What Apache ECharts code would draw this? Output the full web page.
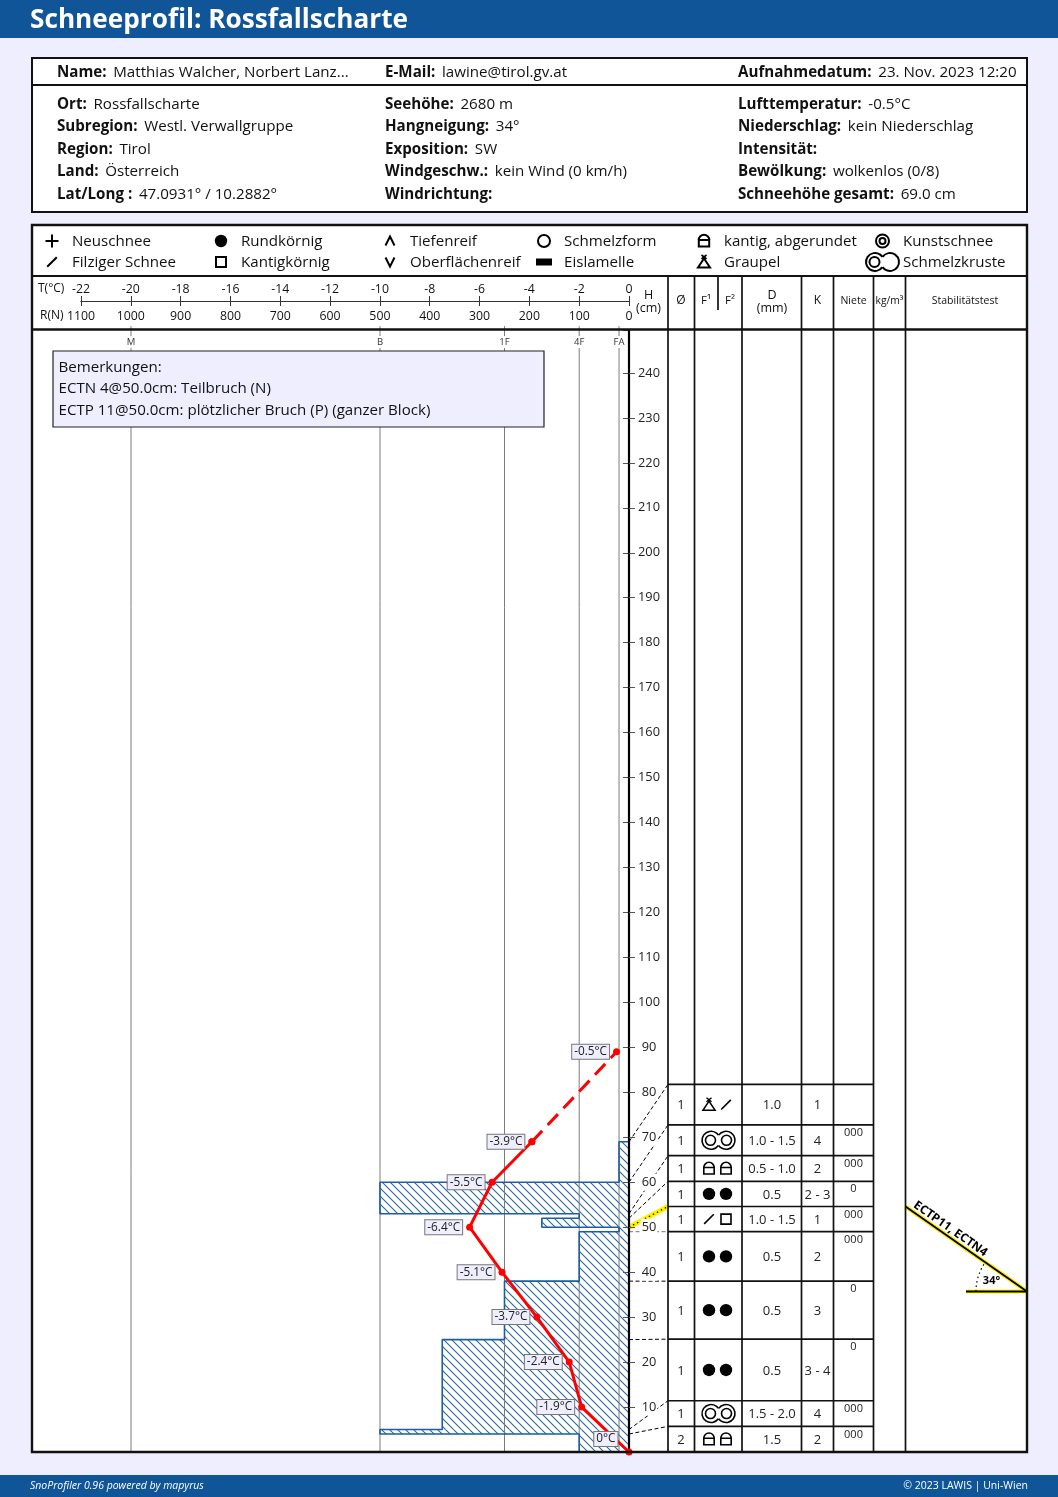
<!DOCTYPE html>
<html>
<head>
<meta charset="utf-8">
<title>Schneeprofil: Rossfallscharte</title>
<script src="https://cdn.jsdelivr.net/npm/echarts@6/dist/echarts.min.js"></script>
<style>
  html, body { margin: 0; padding: 0; background: #eeeeff; }
  #chart { width: 1058px; height: 1497px; }
</style>
</head>
<body>
<div id="chart"></div>
<script>
// data
const infoHead = [["Name:", "Matthias Walcher, Norbert Lanz..."], ["E-Mail:", "lawine@tirol.gv.at"], ["Aufnahmedatum:", "23. Nov. 2023 12:20"]];
const infoCol1 = [["Ort:", "Rossfallscharte"], ["Subregion:", "Westl. Verwallgruppe"], ["Region:", "Tirol"], ["Land:", "Österreich"], ["Lat/Long :", "47.0931° / 10.2882°"]];
const infoCol2 = [["Seehöhe:", "2680 m"], ["Hangneigung:", "34°"], ["Exposition:", "SW"], ["Windgeschw.:", "kein Wind (0 km/h)"], ["Windrichtung:", ""]];
const infoCol3 = [["Lufttemperatur:", "-0.5°C"], ["Niederschlag:", "kein Niederschlag"], ["Intensität:", ""], ["Bewölkung:", "wolkenlos (0/8)"], ["Schneehöhe gesamt:", "69.0 cm"]];
const remarks = ["Bemerkungen:", "ECTN 4@50.0cm: Teilbruch (N)", "ECTP 11@50.0cm: plötzlicher Bruch (P) (ganzer Block)"];

const legendCol1 = [["plus", "Neuschnee"], ["filz", "Filziger Schnee"]];
const legendCol2 = [["round", "Rundkörnig"], ["square", "Kantigkörnig"]];
const legendCol3 = [["up", "Tiefenreif"], ["down", "Oberflächenreif"]];
const legendCol4 = [["ring", "Schmelzform"], ["ice", "Eislamelle"]];
const legendCol5 = [["facet", "kantig, abgerundet"], ["graupel", "Graupel"]];
const legendCol6 = [["artificial", "Kunstschnee"], ["crustKey", "Schmelzkruste"]];

// layers from the ground up: height of the top edge (cm) and hand hardness force (N)
const layerTops = [4, 5, 25, 38, 49, 50, 52, 53, 60, 69];
const layerForce = [100, 500, 375, 250, 100, 20, 175, 100, 500, 20];

const hardnessNames = ["M", "B", "1F", "4F", "FA"];
const hardnessForce = [1000, 500, 250, 100, 20];

const tempHeights = [0, 10, 20, 30, 40, 50, 60, 69, 89];
const tempValues = [0, -1.9, -2.4, -3.7, -5.1, -6.4, -5.5, -3.9, -0.5];

// table rows from the top down
const rowMoisture = ["1", "1", "1", "1", "1", "1", "1", "1", "1", "2"];
const rowGrain1 = ["graupel", "crust", "facet", "round", "filz", "round", "round", "round", "crust", "facet"];
const rowGrain2 = ["filz", "", "facet", "round", "square", "round", "round", "round", "", "facet"];
const rowSize = ["1.0", "1.0 - 1.5", "0.5 - 1.0", "0.5", "1.0 - 1.5", "0.5", "0.5", "0.5", "1.5 - 2.0", "1.5"];
const rowHardness = ["1", "4", "2", "2 - 3", "1", "2", "3", "3 - 4", "4", "2"];
const rowNiete = ["", "000", "000", "0", "000", "000", "0", "0", "000", "000"];
// the layer top each row belongs to, and where the row's top edge sits on the height axis
const rowLayerTop = [69, 60, 53, 52, 50, 49, 38, 25, 5, 4];
const rowEdges = [81.75, 72.75, 65.9, 60.2, 54.6, 49, 38, 25.1, 11.4, 5.7, 0];

const slopeAngle = 34;
const stabilityLabel = "ECTP11, ECTN4";

const FONT = '"Open Sans", "Noto Sans", sans-serif';
const BLUE = "#0f5597";
const PAGE = "#eeeeff";
const HATCH = "#2a66aa";

// column edges of the table (px)
const COLS = [668, 694.5, 742, 801.5, 833.5, 873.5, 905.5, 1027];

// hatch tile for the hardness profile
function hatchTile() {
  const c = document.createElement("canvas");
  c.width = 8;
  c.height = 8;
  const g = c.getContext("2d");
  g.strokeStyle = HATCH;
  g.lineWidth = 1.1;
  g.beginPath();
  g.moveTo(-1, -1);
  g.lineTo(9, 9);
  g.moveTo(7, -1);
  g.lineTo(9, 1);
  g.moveTo(-1, 7);
  g.lineTo(1, 9);
  g.stroke();
  return c;
}
const hatchFill = { image: hatchTile(), repeat: "repeat" };

function ln(x1, y1, x2, y2, lw, color, dash) {
  return {
    type: "line",
    shape: { x1, y1, x2, y2 },
    style: { stroke: color || "#000", lineWidth: lw || 1.6, lineDash: dash || null },
    silent: true,
  };
}
function txt(text, x, y, size, opts) {
  const o = opts || {};
  return {
    type: "text",
    silent: true,
    z: o.z,
    style: {
      text,
      x,
      y: y + 1, // Open Sans sits a bit high when centred
      fill: o.fill || "#111",
      font: (o.weight || "normal") + " " + size + "px " + FONT,
      align: o.align || "center",
      verticalAlign: "middle",
    },
  };
}

// one snow grain symbol around cx, cy. the legend draws them a little heavier
function grain(type, cx, cy, lw) {
  const w = lw || 1.6;
  const stroke = { stroke: "#000", lineWidth: w, fill: "none" };
  const circle = (r, x, st) => ({ type: "circle", shape: { cx: x, cy, r }, style: st, silent: true });
  const arc = (x, y, r, a, b) => ({
    type: "arc",
    shape: { cx: x, cy: y, r, startAngle: a, endAngle: b, clockwise: true },
    style: stroke,
    silent: true,
  });
  const poly = (pts, closed) => ({
    type: closed ? "polygon" : "polyline",
    shape: { points: pts.map((p) => [cx + p[0], cy + p[1]]) },
    style: stroke,
    silent: true,
  });
  const a = (35 * Math.PI) / 180;
  const crustOuter = [
    arc(cx - 7.5, cy, 9, a, 2 * Math.PI - a),
    arc(cx + 7.5, cy, 9, Math.PI + a, 3 * Math.PI - a),
  ];
  switch (type) {
    case "plus":
      return [ln(cx - 6.5, cy, cx + 6.5, cy, w), ln(cx, cy - 6.5, cx, cy + 6.5, w)];
    case "filz":
      return [ln(cx - 4.8, cy + 4.8, cx + 4.8, cy - 4.8, w)];
    case "round":
      return [circle(6.2, cx, { fill: "#000" })];
    case "square":
      return [{ type: "rect", shape: { x: cx - 5, y: cy - 5, width: 10, height: 10 }, style: stroke, silent: true }];
    case "up":
      return [poly([[-4.5, 4.5], [0, -4.5], [4.5, 4.5]])];
    case "down":
      return [poly([[-4.5, -4.5], [0, 4.5], [4.5, -4.5]])];
    case "ring":
      return [circle(6, cx, stroke)];
    case "ice":
      return [{ type: "rect", shape: { x: cx - 8, y: cy - 3.5, width: 16, height: 7 }, style: { fill: "#000" }, silent: true }];
    case "facet":
      return [
        { type: "rect", shape: { x: cx - 5.2, y: cy - 1, width: 10.4, height: 6.5 }, style: stroke, silent: true },
        arc(cx, cy - 1, 5.2, Math.PI, 2 * Math.PI),
      ];
    case "graupel":
      return [
        poly([[0, -3.5], [6, 5.5], [-6, 5.5]], true),
        ln(cx - 2.5, cy - 7, cx + 2.5, cy - 3, w * 0.85),
        ln(cx + 2.5, cy - 7, cx - 2.5, cy - 3, w * 0.85),
      ];
    case "artificial":
      return [circle(6.5, cx, stroke), circle(3, cx, stroke)];
    case "crust":
      return crustOuter.concat(circle(5, cx - 8, stroke), circle(5, cx + 8, stroke));
    case "crustKey":
      return crustOuter.concat(circle(5, cx - 8, stroke));
  }
  return [];
}

function labelled(pair, x, y, size) {
  return {
    type: "text",
    silent: true,
    style: {
      x,
      y,
      text: "{b|" + pair[0] + "}" + (pair[1] ? "  {r|" + pair[1] + "}" : ""),
      verticalAlign: "middle",
      fill: "#111",
      rich: {
        b: { font: "bold " + size + "px " + FONT, fill: "#111" },
        r: { font: size + "px " + FONT, fill: "#111" },
      },
    },
  };
}

// page furniture
const back = [
  { type: "rect", shape: { x: 0, y: 0, width: 1058, height: 38 }, style: { fill: BLUE } },
  { type: "rect", shape: { x: 0, y: 1475, width: 1058, height: 22 }, style: { fill: BLUE } },
  { type: "rect", shape: { x: 32, y: 58, width: 995, height: 154 }, style: { fill: "#fff" } },
  { type: "rect", shape: { x: 32, y: 225, width: 995, height: 1227 }, style: { fill: "#fff" } },
].map((e) => ({ ...e, z: -10, silent: true }));

const front = [];
front.push(txt("Schneeprofil: Rossfallscharte", 30, 19.5, 26.2, { align: "left", weight: "bold", fill: "#fff" }));
front.push({
  type: "text",
  silent: true,
  style: { text: "SnoProfiler 0.96 powered by mapyrus", x: 30, y: 1486.5, fill: "#fff", font: "italic 10.5px " + FONT, verticalAlign: "middle" },
});
front.push(txt("© 2023 LAWIS | Uni-Wien", 1028, 1485.5, 10.5, { align: "right", fill: "#fff" }));

// info box
front.push({ type: "rect", shape: { x: 32, y: 58, width: 995, height: 154 }, style: { fill: "none", stroke: "#111", lineWidth: 2 }, silent: true });
front.push(ln(32, 85, 1027, 85, 2, "#111"));
[57, 385, 738].forEach((x, i) => front.push(labelled(infoHead[i], x, 72.8, 15.15)));
[[57, infoCol1], [385, infoCol2], [738, infoCol3]].forEach(([x, col]) => {
  col.forEach((pair, i) => front.push(labelled(pair, x, 104.7 + i * 22.4, 15.15)));
});

// profile frame and header
front.push({ type: "rect", shape: { x: 32, y: 225, width: 995, height: 1227 }, style: { fill: "none", stroke: "#111", lineWidth: 2.4 }, silent: true });
front.push(ln(32, 276, 1027, 276, 2, "#111"));
front.push(ln(32, 329.5, 1027, 329.5, 2.4, "#111"));
COLS.slice(0, -1).forEach((x) => front.push(ln(x, 276, x, 1452, 1.7, "#111")));
front.push(ln(718, 276, 718, 310, 1.7, "#111"));

[[52, legendCol1, 72], [221, legendCol2, 241], [390, legendCol3, 410], [544, legendCol4, 564], [704, legendCol5, 724], [882.5, legendCol6, 903]].forEach(([sx, col, tx]) => {
  col.forEach((item, i) => {
    const y = 241 + i * 21;
    front.push(...grain(item[0], sx, y, 2));
    front.push(txt(item[1], tx, y, 15.1, { align: "left" }));
  });
});

front.push(txt("T(°C)", 38, 287.5, 12, { align: "left" }));
front.push(txt("R(N)", 40, 314.5, 12, { align: "left" }));
front.push(txt("H", 648.5, 294.5, 12.5));
front.push(txt("(cm)", 648.5, 307, 12.5));
front.push(txt("Ø", 681, 300, 12));
front.push(txt("F¹", 706, 300, 11.5));
front.push(txt("F²", 730, 300, 11.5));
front.push(txt("D", 772, 294.5, 12.5));
front.push(txt("(mm)", 772, 307, 12.5));
front.push(txt("K", 817.5, 300, 12));
front.push(txt("Niete", 853.5, 300, 10.5));
front.push(txt("kg/m³", 889.5, 300, 10.3));
front.push(txt("Stabilitätstest", 965, 300, 10.5));

// remarks box
front.push({ type: "rect", shape: { x: 53, y: 351, width: 491, height: 76 }, style: { fill: PAGE, stroke: "#222", lineWidth: 1.2 }, silent: true });
remarks.forEach((r, i) => front.push(txt(r, 58.5, 366.5 + i * 21.5, 15.1, { align: "left" })));
front.forEach((e) => { e.z = 10; });

// layer outline, one stepped line through the layer edges
const outline = [];
layerTops.forEach((top, i) => {
  outline.push([layerForce[i], i ? layerTops[i - 1] : 0], [layerForce[i], top]);
});
outline.push([0, layerTops[layerTops.length - 1]]);

const tempPoints = tempValues.map((t, i) => [t, tempHeights[i]]);
const solidCount = tempPoints.length - 1;

const tempLabel = {
  show: true,
  position: "left",
  distance: 4,
  formatter: (p) => p.value[0] + "°C",
  color: "#222",
  fontSize: 11.8,
  fontFamily: FONT,
  backgroundColor: PAGE,
  borderColor: "#777",
  borderWidth: 1,
  padding: [2, 2, 0, 2],
};

const chart = echarts.init(document.getElementById("chart"), null, { renderer: "canvas" });

chart.setOption({
  animation: false,
  backgroundColor: PAGE,
  textStyle: { fontFamily: FONT },
  graphic: { elements: back.concat(front) },
  grid: [
    { left: 32, top: 330, width: 597, height: 1122 },
    { left: 81, top: 300, width: 548, height: 1 },
  ],
  xAxis: [
    { gridIndex: 0, type: "value", min: 0, max: 1198.8, inverse: true, show: false },
    { gridIndex: 0, type: "value", min: -23.976, max: 0, show: false },
    {
      gridIndex: 1,
      type: "value",
      position: "top",
      min: -22,
      max: 0,
      interval: 2,
      axisLine: { lineStyle: { color: "#333" } },
      axisTick: { length: 5, lineStyle: { color: "#333" } },
      axisLabel: { color: "#111", fontSize: 12.3, margin: 5, fontFamily: FONT, formatter: (v) => String(v) },
      splitLine: { show: false },
    },
    {
      gridIndex: 1,
      type: "value",
      position: "bottom",
      inverse: true,
      min: 0,
      max: 1100,
      interval: 100,
      axisLine: { lineStyle: { color: "#333" } },
      axisTick: { length: 5, lineStyle: { color: "#333" } },
      axisLabel: { color: "#111", fontSize: 12.3, margin: 9, fontFamily: FONT, formatter: (v) => String(v) },
      splitLine: { show: false },
    },
  ],
  yAxis: [
    {
      gridIndex: 0,
      type: "value",
      position: "right",
      min: 0,
      max: 249.55,
      interval: 10,
      z: 5,
      axisLine: { show: true, onZero: false, lineStyle: { color: "#000", width: 2.2 } },
      axisTick: { show: true, length: 6, lineStyle: { color: "#555" } },
      axisLabel: {
        color: "#222",
        fontSize: 12.8,
        fontFamily: FONT,
        margin: 20,
        align: "center",
        backgroundColor: "#fff",
        padding: [4, 1, 0, 1],
        showMinLabel: false,
        showMaxLabel: false,
      },
      splitLine: { show: false },
    },
    {
      gridIndex: 0,
      type: "value",
      position: "right",
      min: 0,
      max: 249.55,
      interval: 10,
      axisLine: { show: false, onZero: false },
      axisTick: { show: true, inside: true, length: 6, lineStyle: { color: "#555" } },
      axisLabel: { show: false },
      splitLine: { show: false },
    },
    { gridIndex: 1, type: "value", min: 0, max: 1, show: false },
  ],
  series: [
    // hatched layers
    {
      type: "custom",
      xAxisIndex: 0,
      yAxisIndex: 0,
      z: 1,
      silent: true,
      data: layerTops.map((t, i) => [layerForce[i], t]),
      renderItem(params, api) {
        const i = params.dataIndex;
        const a = api.coord([layerForce[i], layerTops[i]]);
        const b = api.coord([0, i ? layerTops[i - 1] : 0]);
        return {
          type: "rect",
          shape: { x: a[0], y: a[1], width: b[0] - a[0], height: b[1] - a[1] },
          style: { fill: hatchFill },
        };
      },
    },
    // hardness reference lines
    {
      type: "custom",
      xAxisIndex: 0,
      yAxisIndex: 0,
      z: 2,
      silent: true,
      data: hardnessForce.map((f) => [f, 0]),
      renderItem(params, api) {
        const i = params.dataIndex;
        const b = api.coord([hardnessForce[i], 0]);
        const t = api.coord([hardnessForce[i], 250.4]);
        const label = txt(hardnessNames[i], b[0], 341, 9.5, { fill: "#333" });
        label.style.backgroundColor = "#fff";
        label.style.padding = [1, 0];
        return { type: "group", children: [ln(b[0], b[1], t[0], t[1], 1, "#7c7c7c"), label] };
      },
    },
    {
      type: "line",
      xAxisIndex: 0,
      yAxisIndex: 0,
      z: 3,
      silent: true,
      clip: false,
      showSymbol: false,
      data: outline,
      lineStyle: { color: "#1c5da4", width: 1.6 },
    },
    // dashed connectors from layer tops to table rows
    {
      type: "custom",
      xAxisIndex: 0,
      yAxisIndex: 0,
      z: 2,
      silent: true,
      data: rowLayerTop.map((t) => [0, t]),
      renderItem(params, api) {
        const i = params.dataIndex;
        const a = api.coord([0, rowLayerTop[i]]);
        const b = api.coord([0, rowEdges[i]]);
        const x2 = COLS[0];
        if (rowLayerTop[i] === 50) {
          return {
            type: "group",
            children: [ln(a[0], a[1], x2, b[1], 5, "#ffee00"), ln(a[0], a[1], x2, b[1], 1.2, "#000", [1.5, 3])],
          };
        }
        return ln(a[0], a[1], x2, b[1], 1, rowLayerTop[i] === 49 ? "#777" : "#000", [4, 2.5]);
      },
    },
    // table rows
    {
      type: "custom",
      xAxisIndex: 0,
      yAxisIndex: 0,
      z: 4,
      silent: true,
      data: rowMoisture.map((m, i) => [0, rowEdges[i]]),
      renderItem(params, api) {
        const i = params.dataIndex;
        const top = api.coord([0, rowEdges[i]])[1];
        const bottom = api.coord([0, rowEdges[i + 1]])[1];
        const y = (top + bottom) / 2;
        const kids = [ln(COLS[0], top, COLS[5], top, 1.7, "#111")];
        kids.push(txt(rowMoisture[i], 681, y, 13, { fill: "#222" }));
        if (rowGrain2[i]) {
          kids.push(...grain(rowGrain1[i], 709, y), ...grain(rowGrain2[i], 726, y));
        } else {
          kids.push(...grain(rowGrain1[i], 718.5, y));
        }
        kids.push(txt(rowSize[i], 772, y, 13, { fill: "#222" }));
        kids.push(txt(rowHardness[i], 817.5, y, 13, { fill: "#222" }));
        if (rowNiete[i]) kids.push(txt(rowNiete[i], 853.5, top + 7, 11, { fill: "#222" }));
        return { type: "group", children: kids };
      },
    },
    // slope sketch at the fracture row
    {
      type: "custom",
      xAxisIndex: 0,
      yAxisIndex: 0,
      z: 4,
      silent: true,
      data: [[0, 54.6]],
      renderItem(params, api) {
        const y1 = api.coord([0, 54.6])[1];
        const y2 = api.coord([0, 35.7])[1];
        const x1 = COLS[6];
        const x2 = COLS[7];
        const rise = Math.atan2(y2 - y1, x2 - x1);
        return {
          type: "group",
          children: [
            ln(x1, y1, x2, y2, 4.2, "#ffee00"),
            ln(966, y2, x2, y2, 4.2, "#ffee00"),
            ln(x1, y1, x2, y2, 1.8, "#000"),
            ln(966, y2, x2, y2, 1.8, "#000"),
            {
              type: "arc",
              shape: { cx: x2, cy: y2, r: 51, startAngle: Math.PI, endAngle: Math.PI + rise * 0.95, clockwise: true },
              style: { stroke: "#000", lineWidth: 1.2, lineDash: [1.5, 3], fill: "none" },
              silent: true,
            },
            txt(slopeAngle + "°", 991.5, y2 - 12, 11, { weight: "bold", fill: "#000" }),
            {
              type: "text",
              x: 950.5,
              y: y1 + 22.5,
              rotation: -rise,
              silent: true,
              style: {
                text: stabilityLabel,
                fill: "#000",
                font: "bold 12px " + FONT,
                align: "center",
                verticalAlign: "middle",
              },
            },
          ],
        };
      },
    },
    // temperature profile
    {
      type: "line",
      xAxisIndex: 1,
      yAxisIndex: 0,
      z: 6,
      silent: true,
      clip: false,
      symbol: "circle",
      symbolSize: 7,
      itemStyle: { color: "#ff0000" },
      lineStyle: { color: "#ff0000", width: 3 },
      label: tempLabel,
      data: tempPoints.slice(0, solidCount).map((v, i) =>
        i === 0 ? { value: v, label: { offset: [-4, -13] } } : { value: v }
      ),
    },
    {
      type: "line",
      xAxisIndex: 1,
      yAxisIndex: 0,
      z: 6,
      silent: true,
      clip: false,
      symbol: "circle",
      symbolSize: 7,
      itemStyle: { color: "#ff0000" },
      lineStyle: { color: "#ff0000", width: 3, type: [15, 8] },
      label: tempLabel,
      data: [{ value: tempPoints[solidCount - 1], label: { show: false } }, { value: tempPoints[solidCount] }],
    },
  ],
});
</script>
</body>
</html>
